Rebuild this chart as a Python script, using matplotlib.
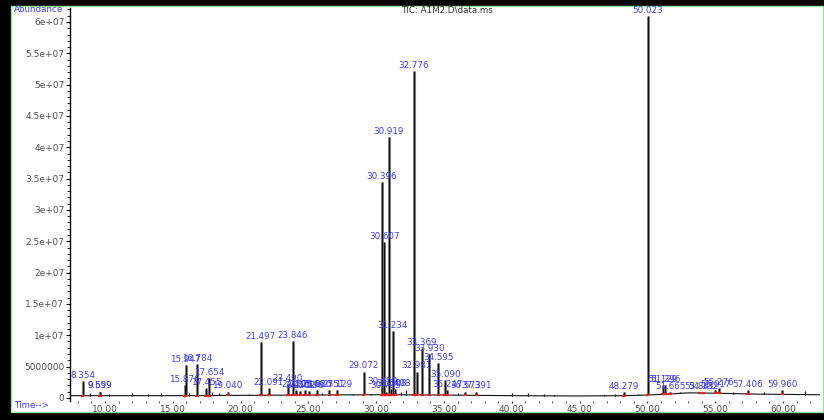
import numpy as np
import matplotlib
matplotlib.use("Agg")
import matplotlib.pyplot as plt
from matplotlib.patches import Rectangle
from matplotlib.ticker import FixedLocator, FixedFormatter, MultipleLocator

plt.rcParams["font.family"] = ["DejaVu Sans"]

# Integrated, labelled peaks: retention time (min), apex abundance, label text
peak_times = [8.354, 9.599, 9.659, 15.876, 15.947, 16.784, 17.455, 17.654, 19.040,
              21.497, 22.091, 23.490, 23.846, 24.105, 24.402, 24.716, 25.038, 25.620,
              26.551, 27.129, 29.072, 30.396, 30.459, 30.607, 30.735, 30.919, 31.108,
              31.234, 31.408, 32.776, 32.981, 33.369, 33.930, 34.595, 35.090, 35.247,
              36.573, 37.391, 48.279, 50.023, 51.129, 51.296, 51.665, 53.841, 54.132,
              55.017, 55.276, 57.406, 59.960]
peak_heights = [2.7e6, 1.0e6, 1.0e6, 2.0e6, 5.3e6, 5.4e6, 1.6e6, 3.2e6, 1.0e6,
                8.9e6, 1.6e6, 2.2e6, 9.1e6, 1.2e6, 1.1e6, 1.2e6, 1.1e6, 1.2e6,
                1.2e6, 1.3e6, 4.2e6, 34.5e6, 1.7e6, 24.8e6, 1.0e6, 41.7e6, 1.4e6,
                10.7e6, 1.4e6, 52.1e6, 4.2e6, 7.9e6, 7.0e6, 5.6e6, 2.9e6, 1.3e6,
                1.0e6, 1.0e6, 0.9e6, 60.9e6, 2.0e6, 2.1e6, 0.9e6, 0.9e6, 0.9e6,
                1.3e6, 1.5e6, 1.3e6, 1.3e6]
peak_labels = ["8.354", "9.599", "9.659", "15.876", "15.947", "16.784", "17.455", "17.654",
               "19.040", "21.497", "22.091", "23.490", "23.846", "24.105", "24.402",
               "24.716", "25.038", "25.620", "26.551", "27.129", "29.072", "30.396",
               "30.459", "30.607", "30.735", "30.919", "31.108", "31.234", "31.408",
               "32.776", "32.981", "33.369", "33.930", "34.595", "35.090", "35.247",
               "36.573", "37.391", "48.279", "50.023", "51.129", "51.296", "51.665",
               "53.841", "54.132", "55.017", "55.276", "57.406", "59.960"]

# Small unlabelled peaks along the baseline
minor_times = [8.9, 10.3, 12.0, 13.2, 14.1, 16.2, 17.9, 18.4, 20.6, 26.0, 28.3,
               29.6, 31.8, 32.2, 36.0, 38.4, 40.0, 41.2, 42.4, 43.1, 46.8, 47.6,
               49.3, 52.4, 56.3, 58.6, 61.6]
minor_heights = [0.7e6, 0.6e6, 0.8e6, 0.6e6, 0.7e6, 0.8e6, 0.9e6, 0.7e6, 0.6e6, 0.7e6, 0.6e6,
                 0.6e6, 1.0e6, 1.2e6, 0.7e6, 0.5e6, 0.8e6, 0.8e6, 0.6e6, 0.5e6, 0.5e6, 0.6e6,
                 0.6e6, 1.0e6, 1.0e6, 0.9e6, 1.1e6]

# Baseline of the total ion chromatogram
base_times = [7.4, 10.0, 15.0, 20.0, 25.0, 30.0, 35.0, 40.0, 45.0, 48.0, 50.0, 51.5,
              53.0, 55.0, 58.0, 62.7]
base_values = [0.35e6, 0.35e6, 0.35e6, 0.4e6, 0.45e6, 0.5e6, 0.45e6, 0.35e6, 0.3e6, 0.35e6,
               0.45e6, 0.6e6, 0.8e6, 0.75e6, 0.6e6, 0.5e6]

y_ticks = [0, 5e6, 1e7, 1.5e7, 2e7, 2.5e7, 3e7, 3.5e7, 4e7, 4.5e7, 5e7, 5.5e7, 6e7]
y_tick_labels = ["0", "5000000", "1e+07", "1.5e+07", "2e+07", "2.5e+07", "3e+07",
                 "3.5e+07", "4e+07", "4.5e+07", "5e+07", "5.5e+07", "6e+07"]
x_ticks = [10, 15, 20, 25, 30, 35, 40, 45, 50, 55, 60]
x_tick_labels = ["10.00", "15.00", "20.00", "25.00", "30.00", "35.00", "40.00",
                 "45.00", "50.00", "55.00", "60.00"]

LABEL_BLUE = "#3f3fe6"
TEXT_GRAY = "#505050"

fig = plt.figure(figsize=(8.24, 4.2), dpi=100, facecolor="black")
# white panel with a thin green frame inside the black border
fig.add_artist(Rectangle((11 / 824, 8 / 420), 812 / 824, 406 / 420,
                         transform=fig.transFigure, facecolor="white",
                         edgecolor="#9fe09f", linewidth=1.0, zorder=0))

ax = fig.add_axes([70 / 824, 19 / 420, 750 / 824, 393 / 420])
ax.set_facecolor("none")

base_t = np.array(base_times)
base_v = np.array(base_values)
ax.plot(base_t, base_v, color="#111111", lw=0.8, zorder=2)

mt = np.array(minor_times)
ax.vlines(mt, np.interp(mt, base_t, base_v), minor_heights, color="#111111", lw=0.9, zorder=2)

pt = np.array(peak_times)
pb = np.interp(pt, base_t, base_v)
ax.vlines(pt, pb, peak_heights, color="#9a9a9a", lw=2.2, zorder=2)
ax.vlines(pt, pb, peak_heights, color="#111111", lw=1.0, zorder=3)

# integration baseline markers
ax.hlines(pb, pt - 0.13, pt + 0.13, color="#e02020", lw=1.6, zorder=4)

for t, h, s in zip(peak_times, peak_heights, peak_labels):
    ax.annotate(s, (t, h), xytext=(0, 0.8), textcoords="offset points",
                ha="center", va="bottom", fontsize=6.3, color=LABEL_BLUE, zorder=5)

ax.set_xlim(7.42, 62.73)
ax.set_ylim(-0.5e6, 62.23e6)

for side in ("top", "right", "bottom"):
    ax.spines[side].set_visible(False)
ax.spines["left"].set_color("black")
ax.spines["left"].set_linewidth(1.0)

ax.yaxis.set_major_locator(FixedLocator(y_ticks))
ax.yaxis.set_major_formatter(FixedFormatter(y_tick_labels))
ax.yaxis.set_minor_locator(MultipleLocator(1e6))
ax.xaxis.set_major_locator(FixedLocator(x_ticks))
ax.xaxis.set_major_formatter(FixedFormatter(x_tick_labels))
ax.xaxis.set_minor_locator(MultipleLocator(1))

ax.tick_params(axis="y", which="major", length=3, width=0.8, pad=1,
               labelsize=6.5, labelcolor=TEXT_GRAY, color="black")
ax.tick_params(axis="y", which="minor", length=2, width=0.6, color="black")
ax.tick_params(axis="x", which="major", length=1.5, width=0.8, pad=1.5,
               labelsize=6.5, labelcolor=TEXT_GRAY, color="#333333")
ax.tick_params(axis="x", which="minor", length=1.5, width=0.6, color="#333333")

fig.text(14 / 824, 1 - 9 / 420, "Abundance", fontsize=6.3, color=LABEL_BLUE,
         ha="left", va="center")
fig.text(14 / 824, 1 - 405 / 420, "Time-->", fontsize=6.3, color=LABEL_BLUE,
         ha="left", va="center")
fig.text(447 / 824, 1 - 10 / 420, "TIC: A1M2.D\\data.ms", fontsize=6.3, color="#333333",
         ha="center", va="center")

fig.savefig("out.png", dpi=100, facecolor=fig.get_facecolor())
